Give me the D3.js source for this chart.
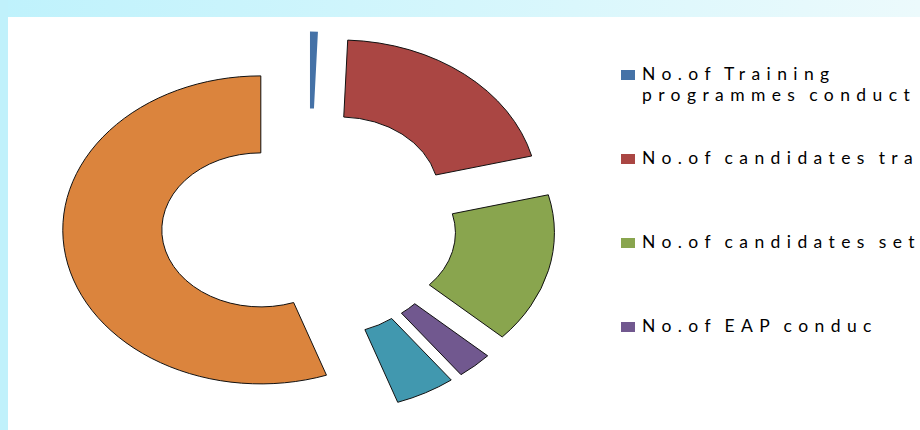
<!DOCTYPE html>
<html>
<head>
<meta charset="utf-8">
<script src="https://cdn.jsdelivr.net/npm/d3@7"></script>
<style>
  body { margin: 0; background: #fff; }
  svg { display: block; }
</style>
</head>
<body>
<div id="chart"></div>
<script>
// data
const categories = [
  "No.of Training programmes conducted",
  "No.of candidates trained",
  "No.of candidates settled",
  "No.of EAP conducted",
  "No.of EDP conducted",
  "No.of persons benefited"
];
const values = [32, 1020, 790, 145, 245, 2770];
// legend text as it shows in the picture (cut off by the legend box)
const legendLines = [
  ["No.of Training", "programmes conduct"],
  ["No.of candidates tra"],
  ["No.of candidates set"],
  ["No.of EAP conduc"],
  ["No.of EDP conduc"],
  ["No.of persons ben"]
];
const colors = ["#4572a7", "#aa4643", "#89a54e", "#71588f", "#4198af", "#db843d"];

const width = 920, height = 430;
const cx = 309, cy = 223.5;
const outerR = 154, innerR = 77;
const stretch = 1.286;   // chart is stretched sideways
const explode = 38;

const svg = d3.select("#chart").append("svg")
  .attr("width", width)
  .attr("height", height);

// backdrop: cyan band top and left
const defs = svg.append("defs");
const grad = defs.append("linearGradient").attr("id", "band")
  .attr("x1", 0).attr("x2", 1).attr("y1", 0).attr("y2", 0);
grad.append("stop").attr("offset", 0).attr("stop-color", "#bff2fc");
grad.append("stop").attr("offset", 0.5).attr("stop-color", "#d4f6fc");
grad.append("stop").attr("offset", 1).attr("stop-color", "#ecfafc");

svg.append("rect").attr("width", width).attr("height", 17).attr("fill", "url(#band)");
svg.append("rect").attr("y", 0).attr("width", 8).attr("height", height).attr("fill", "#c0f1fb");
svg.append("rect").attr("x", 8).attr("y", 17).attr("width", width - 8).attr("height", height - 17).attr("fill", "#fff");

//----- doughnut -----//
const pie = d3.pie().sort(null).value(d => d);
const arcs = pie(values);
const arc = d3.arc().innerRadius(innerR).outerRadius(outerR);

const donut = svg.append("g")
  .attr("transform", `translate(${cx},${cy}) scale(${stretch},1)`);

donut.selectAll("path")
  .data(arcs)
  .join("path")
  .attr("transform", d => {
    const mid = (d.startAngle + d.endAngle) / 2;
    return `translate(${Math.sin(mid) * explode},${-Math.cos(mid) * explode})`;
  })
  .attr("d", arc)
  .attr("fill", (d, i) => colors[i])
  .attr("stroke", (d, i) => i === 0 ? "none" : "#111")
  .attr("stroke-width", 1)
  .attr("vector-effect", "non-scaling-stroke");

//----- legend -----//
// the legend box only has room for the first four entries
const legendBottom = 370;
const legendY = d3.scaleLinear().domain([0, 1]).range([80, 164]);
const shown = categories.filter((d, i) => legendY(i) < legendBottom);

const legend = svg.append("g");

const item = legend.selectAll("g")
  .data(shown)
  .join("g")
  .attr("transform", (d, i) => `translate(0,${legendY(i)})`);

item.append("rect")
  .attr("x", 621).attr("y", -10)
  .attr("width", 14).attr("height", 10)
  .attr("fill", (d, i) => colors[i]);

item.append("text")
  .attr("x", 642)
  .attr("font-family", "Lato, 'Open Sans', sans-serif")
  .attr("font-size", 17.5)
  .attr("letter-spacing", 6.4)
  .attr("word-spacing", -3)
  .attr("fill", "#000")
  .selectAll("tspan")
  .data((d, i) => legendLines[i])
  .join("tspan")
  .attr("x", 642)
  .attr("dy", (d, j) => j === 0 ? 0 : 21)
  .text(d => d);
</script>
</body>
</html>
